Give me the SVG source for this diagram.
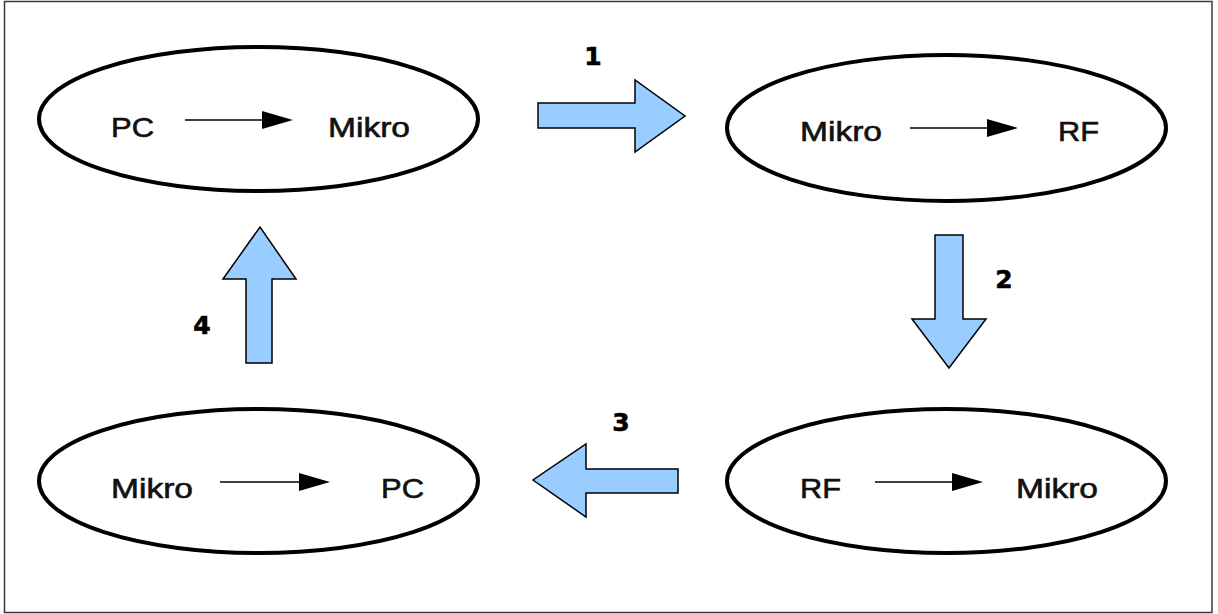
<svg xmlns="http://www.w3.org/2000/svg" width="1218" height="614" viewBox="0 0 1218 614">
  <style>
    .frame { fill: #ffffff; stroke: #3a3a3a; stroke-width: 1.5; }
    .state { fill: #ffffff; stroke: #000000; stroke-width: 4; }
    .label { font-family: "Liberation Sans", Arial, sans-serif; font-size: 27px; fill: #111111; stroke: #111111; stroke-width: 0.6; }
    .step { font-family: "DejaVu Sans", "Liberation Sans", sans-serif; font-size: 25px; font-weight: bold; fill: #000000; stroke: #000000; stroke-width: 0.6; text-anchor: middle; }
    .flow { stroke: #000000; stroke-width: 1.4; fill: none; }
    .head { fill: #000000; }
    .big { fill: #99ccff; stroke: #000000; stroke-width: 1.5; stroke-linejoin: miter; }
  </style>

  <!-- outer frame -->
  <rect class="frame" x="4.5" y="1.5" width="1207.5" height="611"/>

  <!-- state 1: PC -> Mikro -->
  <g id="node-pc-mikro">
    <ellipse class="state" cx="258.5" cy="119" rx="219.5" ry="72"/>
    <text class="label" x="111" y="137" textLength="43" lengthAdjust="spacingAndGlyphs">PC</text>
    <line class="flow" x1="185" y1="120" x2="265" y2="120"/>
    <polygon class="head" points="262,111 293,120 262,129"/>
    <text class="label" x="328" y="137" textLength="82" lengthAdjust="spacingAndGlyphs">Mikro</text>
  </g>

  <!-- state 2: Mikro -> RF -->
  <g id="node-mikro-rf">
    <ellipse class="state" cx="946.5" cy="128" rx="219.5" ry="73"/>
    <text class="label" x="800" y="141" textLength="82" lengthAdjust="spacingAndGlyphs">Mikro</text>
    <line class="flow" x1="910" y1="128" x2="990" y2="128"/>
    <polygon class="head" points="987,119 1018,128 987,137"/>
    <text class="label" x="1058" y="141" textLength="41" lengthAdjust="spacingAndGlyphs">RF</text>
  </g>

  <!-- state 3: RF -> Mikro -->
  <g id="node-rf-mikro">
    <ellipse class="state" cx="946.5" cy="481" rx="219.5" ry="72"/>
    <text class="label" x="800" y="498" textLength="41" lengthAdjust="spacingAndGlyphs">RF</text>
    <line class="flow" x1="875" y1="482" x2="955" y2="482"/>
    <polygon class="head" points="952,473 983,482 952,491"/>
    <text class="label" x="1016" y="498" textLength="82" lengthAdjust="spacingAndGlyphs">Mikro</text>
  </g>

  <!-- state 4: Mikro -> PC -->
  <g id="node-mikro-pc">
    <ellipse class="state" cx="258.5" cy="481" rx="219.5" ry="72"/>
    <text class="label" x="111" y="498" textLength="82" lengthAdjust="spacingAndGlyphs">Mikro</text>
    <line class="flow" x1="220" y1="482" x2="302" y2="482"/>
    <polygon class="head" points="299,473 330,482 299,491"/>
    <text class="label" x="381" y="498" textLength="43" lengthAdjust="spacingAndGlyphs">PC</text>
  </g>

  <!-- block arrows between the states, with step numbers -->
  <g id="connectors">
    <polygon class="big" points="538,103 635,103 635,80 685,116 635,152 635,128 538,128"/>
    <text class="step" x="593" y="65">1</text>

    <polygon class="big" points="935,235 963,235 963,319 986,319 949,368 912,319 935,319"/>
    <text class="step" x="1004" y="288">2</text>

    <polygon class="big" points="678,469 586,469 586,444 533,480 586,517 586,493 678,493"/>
    <text class="step" x="621" y="431">3</text>

    <polygon class="big" points="246,363 246,279 223,279 260,227 296,279 272,279 272,363"/>
    <text class="step" x="202" y="334">4</text>
  </g>
</svg>
